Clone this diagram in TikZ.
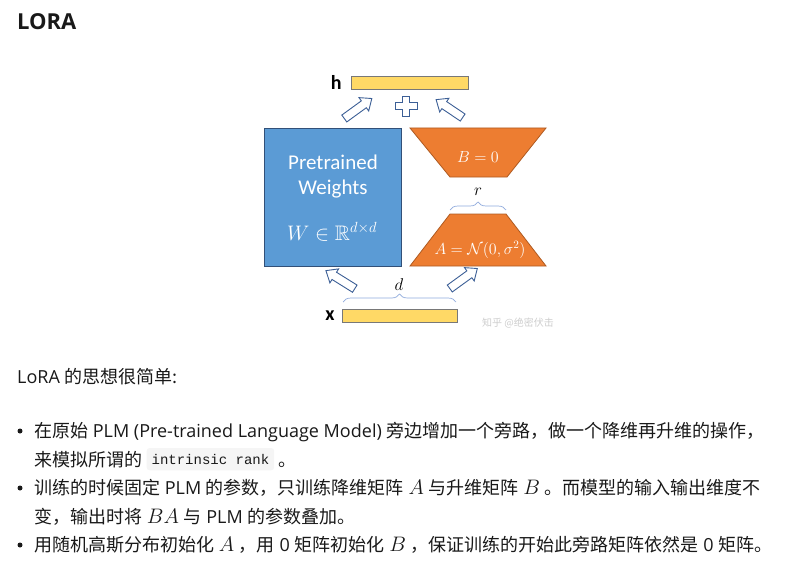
\RequirePackage{fix-cm}
\documentclass[tikz,border=0pt]{standalone}
\usepackage{amsmath,amssymb}
\usepackage[no-math]{fontspec}
\setmainfont{Open Sans}
\newfontfamily\cjk{Noto Sans CJK SC}
\newfontfamily\calib{Carlito}
\newfontfamily\codefont{Liberation Mono}
\usetikzlibrary{positioning, shapes.arrows, decorations.pathreplacing, calc}
\definecolor{pwblue}{RGB}{91, 155, 213}
\definecolor{pwborder}{RGB}{50, 80, 120}
\definecolor{lorange}{RGB}{237, 125, 49}
\definecolor{loborder}{RGB}{174, 90, 33}
\definecolor{baryellow}{RGB}{255, 217, 102}
\definecolor{barline}{RGB}{120, 120, 120}
\definecolor{arrowblue}{RGB}{60, 95, 150}
\definecolor{bracecol}{RGB}{143, 170, 220}
\definecolor{codebg}{RGB}{245, 245, 245}
\definecolor{bodytext}{RGB}{25, 25, 25}
\definecolor{marktext}{RGB}{205, 205, 205}
\newcommand{\mth}[1]{{\fontsize{21}{21}\selectfont$#1$}}

\begin{document}
\begin{tikzpicture}[
    x=1pt, y=-1pt,
    vecbar/.style={draw=barline, fill=baryellow, line width=0.6pt, minimum height=13pt, inner sep=0pt},
    vlabel/.style={font=\calib\bfseries\fontsize{20}{20}\selectfont, inner sep=0pt},
    hollow/.style={single arrow, draw=arrowblue, fill=white, line width=0.9pt, minimum height=34pt, inner xsep=0pt, inner ysep=3.8pt, single arrow head extend=4pt, single arrow tip angle=80},
    weights/.style={draw=pwborder, fill=pwblue, line width=0.8pt, minimum width=137pt, minimum height=138pt, inner sep=0pt},
    lowrank/.style={draw=loborder, fill=lorange, line width=0.8pt},
    brace/.style={draw=bracecol, line width=0.7pt, decorate, decoration={brace, amplitude=#1}},
    wtext/.style={text=white, font=\calib\fontsize{21}{25}\selectfont, align=center, inner sep=0pt},
    wmath/.style={text=white, font=\fontsize{16}{16}\selectfont, inner sep=0pt},
    mathlbl/.style={font=\fontsize{17}{17}\selectfont, inner sep=0pt},
    bodyline/.style={anchor=base west, inner sep=0pt, font=\fontsize{18}{21}\selectfont, text=bodytext},
    bulletdot/.style={circle, fill=bodytext, inner sep=0pt, minimum size=5pt},
    codebox/.style={fill=codebg, rounded corners=3pt, font=\codefont\fontsize{14}{14}\selectfont, inner xsep=5pt, inner ysep=6pt, text=bodytext}
]
\useasboundingbox (0,0) rectangle (803,567);

% title
\node[font=\bfseries\fontsize{22}{22}\selectfont, anchor=west, inner sep=0pt, text=bodytext] (title) at (17,22) {LORA};

% ---- diagram ----
% input / output vectors
\node[vecbar, minimum width=117pt] (h) at (409.5,82.5) {};
\node[vlabel, left=9pt of h] (hlabel) {h};
\node[vecbar, minimum width=115pt] (x) at (399.5,315.5) {};
\node[vlabel, left=7pt of x] (xlabel) {x};

% frozen weights
\node[weights] (W) at (332.5,197) {};
\node[wtext] (Wname) at (333,177) {Pretrained\\Weights};
\node[wmath, font=\fontsize{21}{21}\selectfont] (Wdim) at (332,232) {$W \in \mathbb{R}^{d\times d}$};

% low-rank bypass
\coordinate (Btl) at (410,128);
\coordinate (Btr) at (546,128);
\coordinate (Bbr) at (507,177);
\coordinate (Bbl) at (450,177);
\draw[lowrank] (Btl) -- (Btr) -- (Bbr) -- (Bbl) -- cycle;
\node[wmath] (Bval) at (478,157) {$B = 0$};

\coordinate (Atl) at (450,214);
\coordinate (Atr) at (506,214);
\coordinate (Abr) at (546,266);
\coordinate (Abl) at (410,266);
\draw[lowrank] (Atl) -- (Atr) -- (Abr) -- (Abl) -- cycle;
\node[wmath] (Aval) at (480,250) {$A = \mathcal{N}(0,\sigma^2)$};

% dimensions
\coordinate (rL) at (450,210);
\coordinate (rR) at (506,210);
\draw[brace=8pt] (rL) -- (rR);
\node[mathlbl] (rlabel) at (478,192) {$r$};
\coordinate (dL) at (343,302);
\coordinate (dR) at (456,302);
\draw[brace=8pt] (dL) -- (dR);
\node[mathlbl] (dlabel) at (399,285) {$d$};

% data flow
\node[hollow, rotate=148] (inW) at (342.5,281) {};
\node[hollow, rotate=36] (inA) at (461.5,280) {};
\node[hollow, rotate=36] (outW) at (356,110) {};
\node[hollow, rotate=146, minimum height=32pt] (outB) at (451.5,110) {};
\draw[draw=arrowblue, fill=white, line width=0.9pt, shift={(406,106)}]
    (-3.5,-10) -- (3.5,-10) -- (3.5,-3.5) -- (11,-3.5) -- (11,3.5) -- (3.5,3.5)
    -- (3.5,10) -- (-3.5,10) -- (-3.5,3.5) -- (-11,3.5) -- (-11,-3.5) -- (-3.5,-3.5) -- cycle;

\node[text=marktext, font=\cjk\fontsize{10}{10}\selectfont, inner sep=0pt] (mark) at (518,323) {知乎 @绝密伏击};

% ---- text ----
\node[bodyline] (intro) at (17,383) {LoRA {\cjk 的思想很简单:}};

\node[bulletdot] (b1) at (20,431) {};
\node[bodyline] (l1) at (34,437) {{\cjk 在原始} PLM (Pre-trained Language Model) {\cjk 旁边增加一个旁路，做一个降维再升维的操作，}};
\node[bodyline] (l2) at (34,466) {\cjk 来模拟所谓的};
\node[codebox, right=4pt of l2] (rank) {intrinsic rank};
\node[bodyline] (l2end) at ([xshift=4pt]rank.east |- l2.base) {\cjk 。};

\node[bulletdot] (b2) at (20,488) {};
\node[bodyline] (l3) at (34,494) {{\cjk 训练的时候固定} PLM {\cjk 的参数，只训练降维矩阵} \mth{A} {\cjk 与升维矩阵} \mth{B} {\cjk 。而模型的输入输出维度不}};
\node[bodyline] (l4) at (34,523) {{\cjk 变，输出时将} \mth{BA} {\cjk 与} PLM {\cjk 的参数叠加。}};

\node[bulletdot] (b3) at (20,545) {};
\node[bodyline] (l5) at (34,551) {{\cjk 用随机高斯分布初始化} \mth{A} {\cjk ，用} 0 {\cjk 矩阵初始化} \mth{B} {\cjk ，保证训练的开始此旁路矩阵依然是} 0 {\cjk 矩阵。}};

\end{tikzpicture}
\end{document}
